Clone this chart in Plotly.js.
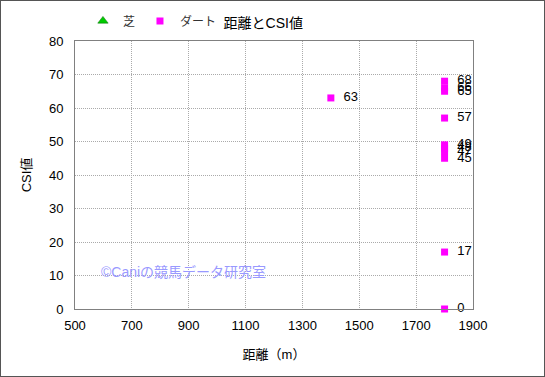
<!DOCTYPE html>
<html><head><meta charset="utf-8">
<script src="https://cdn.plot.ly/plotly-3.0.1.min.js"></script>
<style>
html,body{margin:0;padding:0;background:#fff;}
#wrap{width:545px;height:377px;box-sizing:border-box;border:1px solid #555;overflow:hidden;}
#chart{width:543px;height:375px;}
</style></head>
<body><div id="wrap"><div id="chart"></div></div>
<script>
// 芝 (turf) series: no points
const turfDist = [null];
const turfCSI = [null];
// ダート (dirt) series
const dirtDist = [1400, 1800, 1800, 1800, 1800, 1800, 1800, 1800, 1800, 1800, 1800];
const dirtCSI  = [63, 68, 66, 65, 57, 49, 48, 47, 45, 17, 0];
const xTicks = [500, 700, 900, 1100, 1300, 1500, 1700, 1900];
const yTicks = [0, 10, 20, 30, 40, 50, 60, 70, 80];

const jp = '"Liberation Sans", Arial, "Noto Sans CJK JP", sans-serif';

const traces = [
  {x: turfDist, y: turfCSI, name: '芝', type: 'scatter', mode: 'markers', showlegend: true,
   marker: {symbol: 'triangle-up', color: '#00CC00', size: 9, line: {color: '#006600', width: 0.5}}},
  {x: dirtDist, y: dirtCSI, name: 'ダート', type: 'scatter', mode: 'markers+text',
   text: dirtCSI.map(v => '  ' + v), textposition: 'middle right',
   textfont: {family: jp, size: 13, color: '#000'},
   marker: {symbol: 'square', color: '#FF00FF', size: 7}, cliponaxis: false}
];

const layout = {
  width: 543, height: 375,
  margin: {l: 74, r: 71, t: 40, b: 67, autoexpand: false},
  paper_bgcolor: '#fff', plot_bgcolor: '#fff',
  font: {family: jp, size: 12, color: '#000'},
  title: {text: '距離とCSI値', font: {family: jp, size: 14, color: '#000'},
          x: 0.483, xanchor: 'center', y: 0.94, yanchor: 'middle'},
  showlegend: true,
  legend: {orientation: 'h', x: 0.02, xanchor: 'left', y: 1.075, yanchor: 'middle',
           font: {family: jp, size: 12, color: '#333'}, bgcolor: 'rgba(0,0,0,0)',
           itemwidth: 30, tracegroupgap: 0},
  xaxis: {range: [500, 1900], tickvals: xTicks, ticks: '', showline: true, mirror: true,
          linecolor: '#808080', linewidth: 1, gridcolor: '#aaa', griddash: '1px,1px', gridwidth: 1,
          zeroline: false, tickfont: {family: jp, size: 13, color: '#000'}, ticklabelstandoff: 4,
          title: {text: '距離（m）', font: {family: jp, size: 13, color: '#000'}, standoff: 18}},
  yaxis: {range: [0, 80], tickvals: yTicks, ticks: '', showline: true, mirror: true,
          linecolor: '#808080', linewidth: 1, gridcolor: '#aaa', griddash: '1px,1px', gridwidth: 1,
          zeroline: false, tickfont: {family: jp, size: 13, color: '#000'}, ticklabelstandoff: 8,
          title: {text: 'CSI値', font: {family: jp, size: 13, color: '#000'}, standoff: 14}},
  annotations: [{text: '©Caniの競馬データ研究室', xref: 'x', yref: 'y', x: 583, y: 11,
                 xanchor: 'left', yanchor: 'middle', showarrow: false,
                 font: {family: jp, size: 14, color: '#9999FF'}}]
};
Plotly.newPlot('chart', traces, layout, {displayModeBar: false, staticPlot: true});
</script></body></html>
